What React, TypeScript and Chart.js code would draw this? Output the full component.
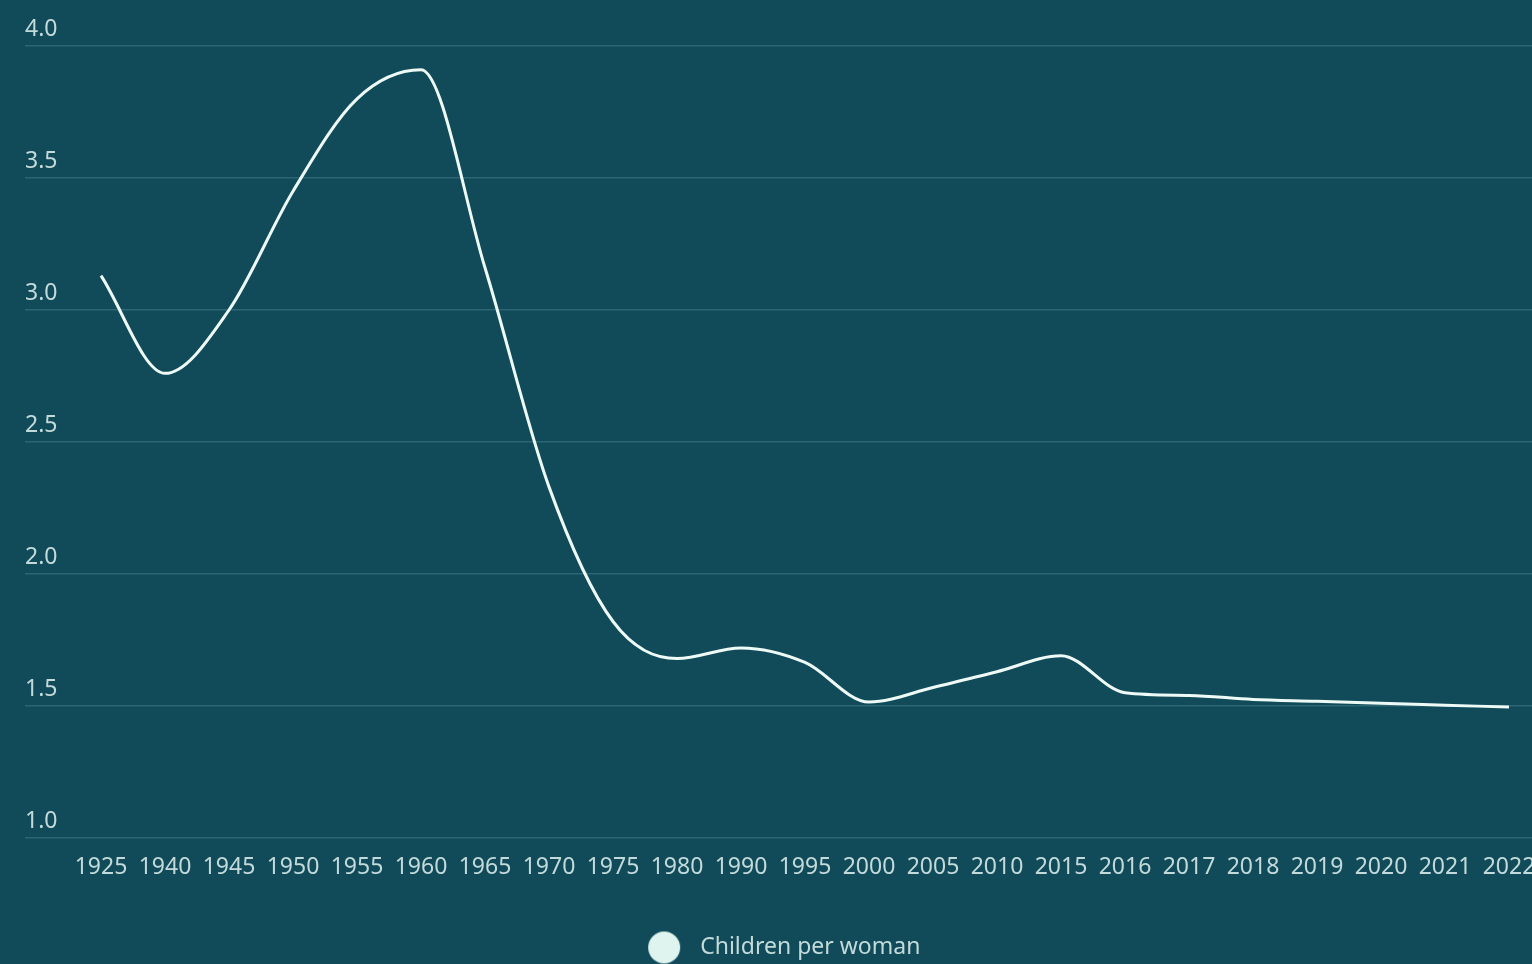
import React, { useEffect, useRef } from "react";
import { Chart, registerables } from "chart.js";

Chart.register(...registerables);

const years: string[] = [
  "1925", "1940", "1945", "1950", "1955", "1960", "1965", "1970", "1975", "1980",
  "1990", "1995", "2000", "2005", "2010", "2015", "2016", "2017", "2018", "2019",
  "2020", "2021", "2022",
];

const childrenPerWoman: number[] = [
  3.13, 2.76, 3.0, 3.45, 3.8, 3.91, 3.16, 2.33, 1.82, 1.68,
  1.72, 1.665, 1.515, 1.57, 1.63, 1.69, 1.55, 1.54, 1.525, 1.518,
  1.51, 1.503, 1.496,
];

const yTicks: number[] = [1.0, 1.5, 2.0, 2.5, 3.0, 3.5, 4.0];

const seriesLabel = "Children per woman";

const BG = "#114b5a";
const TEXT = "#c3dada";
const GRID = "#2d6574";
const LINE = "#eefaf6";
const DOT = "#dff4ee";
const FONT = "'Noto Sans', sans-serif";

const W = 1535;
const H = 969;

export default function App() {
  const ref = useRef<HTMLCanvasElement | null>(null);

  useEffect(() => {
    document.body.style.margin = "0";
    document.body.style.background = BG;
    const canvas = ref.current;
    if (!canvas) return;

    const dot = document.createElement("canvas");
    dot.width = 34;
    dot.height = 34;
    const dctx = dot.getContext("2d");
    if (dctx) {
      dctx.fillStyle = DOT;
      dctx.beginPath();
      dctx.arc(17, 17, 16, 0, Math.PI * 2);
      dctx.fill();
    }

    const left = 25;
    const firstX = 101;
    const step = 64;
    const xMin = -(firstX - left) / step;
    const xMax = xMin + (W - left) / step;

    const chart = new Chart(canvas, {
      type: "line",
      data: {
        datasets: [
          {
            label: seriesLabel,
            data: childrenPerWoman.map((v, i) => ({ x: i, y: v })),
            borderColor: LINE,
            backgroundColor: DOT,
            borderWidth: 3,
            pointRadius: 0,
            cubicInterpolationMode: "monotone",
            fill: false,
          },
        ],
      },
      options: {
        responsive: false,
        animation: false,
        devicePixelRatio: 1,
        layout: { padding: { top: 46, left: left, right: 0, bottom: 0 } },
        scales: {
          x: {
            type: "linear",
            min: xMin,
            max: xMax,
            grid: { display: false },
            border: { display: false },
            afterBuildTicks: (scale: any) => {
              scale.ticks = years.map((_, i) => ({ value: i }));
            },
            afterFit: (scale: any) => {
              scale.height = 88;
              scale.paddingLeft = 0;
              scale.paddingRight = 0;
            },
            ticks: {
              autoSkip: false,
              maxRotation: 0,
              minRotation: 0,
              padding: 8,
              color: TEXT,
              font: { family: FONT, size: 23 },
              callback: (v: any) => years[v as number] ?? "",
            },
          },
          y: {
            min: 1,
            max: 4,
            afterBuildTicks: (scale: any) => {
              scale.ticks = yTicks.map((v) => ({ value: v }));
            },
            grid: { color: GRID, lineWidth: 1.5, drawTicks: false },
            border: { display: false },
            ticks: {
              mirror: true,
              padding: 0,
              labelOffset: -17,
              color: TEXT,
              font: { family: FONT, size: 23 },
              callback: (v: any) => Number(v).toFixed(1),
            },
          },
        },
        plugins: {
          legend: {
            position: "bottom",
            labels: {
              usePointStyle: true,
              pointStyle: dot as any,
              pointStyleWidth: 49,
              boxHeight: 23,
              padding: 10,
              color: TEXT,
              font: { family: FONT, size: 23 },
            },
          },
          tooltip: { enabled: false },
        },
      },
    } as any);

    return () => {
      chart.destroy();
    };
  }, []);

  return (
    <div
      style={{
        position: "fixed",
        left: 0,
        top: 0,
        width: "100vw",
        height: "100vh",
        overflow: "hidden",
        background: BG,
      }}
    >
      <canvas ref={ref} width={W} height={H} style={{ display: "block", width: W, height: H }} />
    </div>
  );
}
